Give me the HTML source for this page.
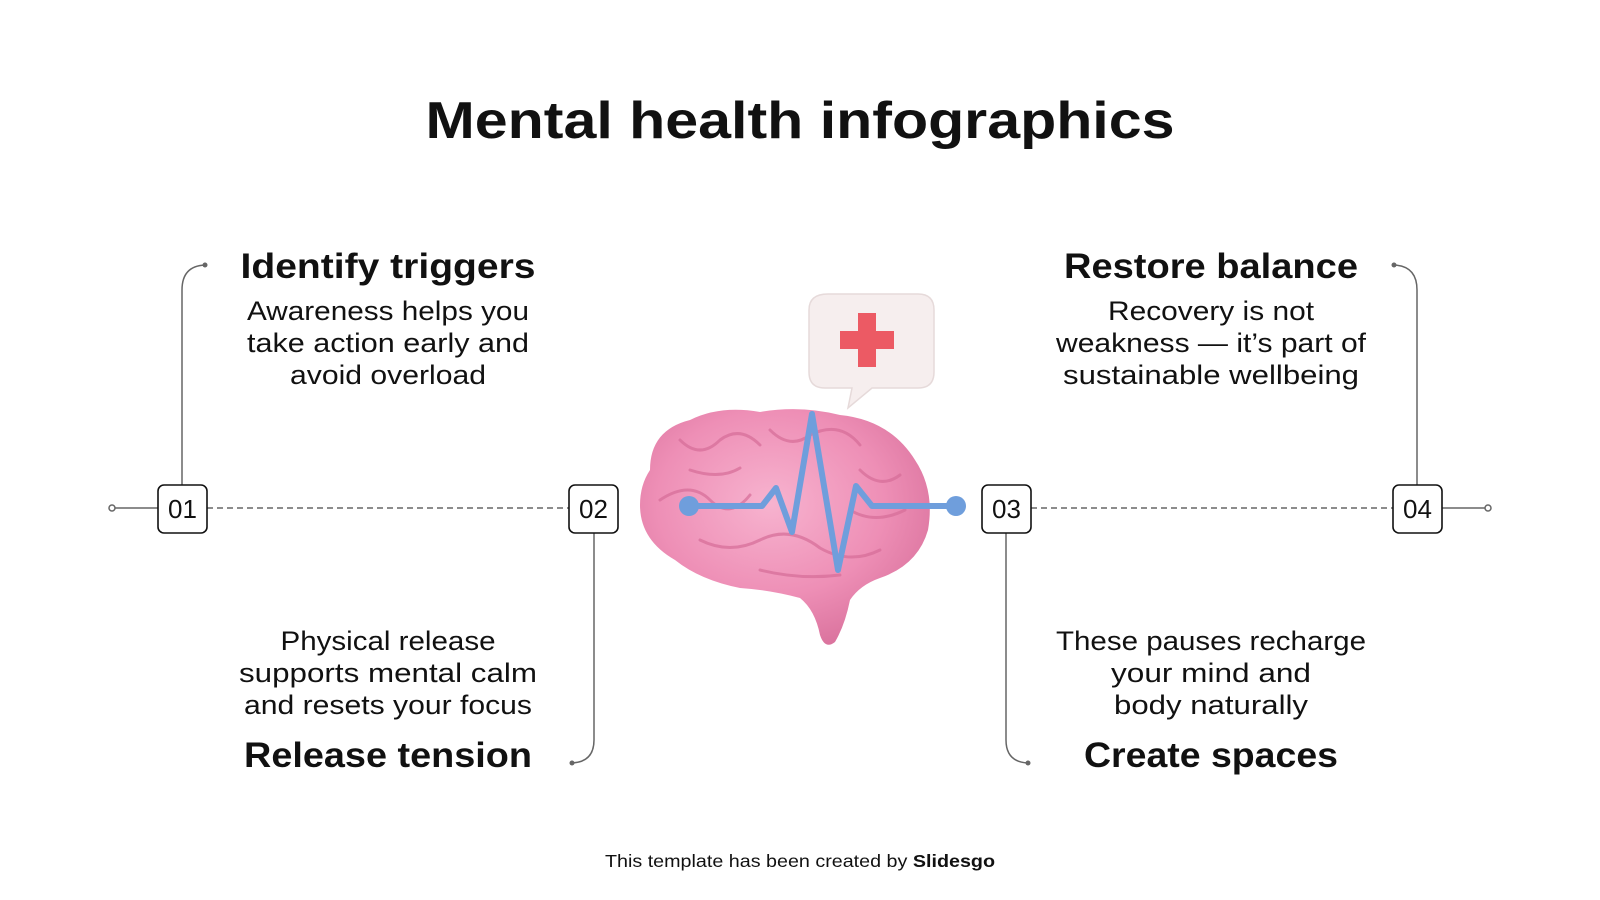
<!DOCTYPE html>
<html><head><meta charset="utf-8"><style>
html,body{margin:0;padding:0;background:#fff}
svg{display:block}
text{font-family:"Liberation Sans",sans-serif;fill:#111}
</style></head><body>
<svg width="1600" height="900" viewBox="0 0 1600 900" xmlns="http://www.w3.org/2000/svg">
<defs>
<radialGradient id="br" cx="45%" cy="40%" r="65%"><stop offset="0" stop-color="#f7b3cf"/><stop offset="0.6" stop-color="#ee8fb6"/><stop offset="1" stop-color="#d9719c"/></radialGradient>
</defs>
<text x="800" y="138" text-anchor="middle" font-size="52" font-weight="bold" textLength="749" lengthAdjust="spacingAndGlyphs">Mental health infographics</text>

<!-- axis -->
<g stroke="#666" stroke-width="1.5" fill="none">
<line x1="115" y1="508" x2="158" y2="508"/>
<line x1="207" y1="508" x2="569" y2="508" stroke-dasharray="6,4"/>
<line x1="1031" y1="508" x2="1393" y2="508" stroke-dasharray="6,4"/>
<line x1="1442" y1="508" x2="1485" y2="508"/>
<circle cx="112" cy="508" r="3" fill="#fff"/>
<circle cx="1488" cy="508" r="3" fill="#fff"/>
<path d="M182 485 V290 Q182 266 205 265"/>
<path d="M594 533 V740 Q594 762 572 763"/>
<path d="M1006 533 V740 Q1006 762 1028 763"/>
<path d="M1417 485 V290 Q1417 266 1394 265"/>
</g>
<g fill="#666"><circle cx="205" cy="265" r="2.5"/><circle cx="572" cy="763" r="2.5"/><circle cx="1028" cy="763" r="2.5"/><circle cx="1394" cy="265" r="2.5"/></g>
<g fill="#fff" stroke="#111" stroke-width="1.6">
<rect x="158" y="485" width="49" height="48" rx="6"/>
<rect x="569" y="485" width="49" height="48" rx="6"/>
<rect x="982" y="485" width="49" height="48" rx="6"/>
<rect x="1393" y="485" width="49" height="48" rx="6"/>
</g>
<g font-size="26" text-anchor="middle">
<text x="182.5" y="518">01</text><text x="593.5" y="518">02</text><text x="1006.5" y="518">03</text><text x="1417.5" y="518">04</text>
</g>

<!-- texts -->
<g text-anchor="middle">
<text x="388" y="278" font-size="35" font-weight="bold" textLength="295" lengthAdjust="spacingAndGlyphs">Identify triggers</text>
<text x="388" y="320" font-size="27" textLength="282" lengthAdjust="spacingAndGlyphs">Awareness helps you</text>
<text x="388" y="352" font-size="27" textLength="282" lengthAdjust="spacingAndGlyphs">take action early and</text>
<text x="388" y="384" font-size="27" textLength="196" lengthAdjust="spacingAndGlyphs">avoid overload</text>

<text x="1211" y="278" font-size="35" font-weight="bold" textLength="294" lengthAdjust="spacingAndGlyphs">Restore balance</text>
<text x="1211" y="320" font-size="27" textLength="206" lengthAdjust="spacingAndGlyphs">Recovery is not</text>
<text x="1211" y="352" font-size="27" textLength="310" lengthAdjust="spacingAndGlyphs">weakness — it’s part of</text>
<text x="1211" y="384" font-size="27" textLength="296" lengthAdjust="spacingAndGlyphs">sustainable wellbeing</text>

<text x="388" y="650" font-size="27" textLength="215" lengthAdjust="spacingAndGlyphs">Physical release</text>
<text x="388" y="682" font-size="27" textLength="298" lengthAdjust="spacingAndGlyphs">supports mental calm</text>
<text x="388" y="714" font-size="27" textLength="288" lengthAdjust="spacingAndGlyphs">and resets your focus</text>
<text x="388" y="767" font-size="35" font-weight="bold" textLength="288" lengthAdjust="spacingAndGlyphs">Release tension</text>

<text x="1211" y="650" font-size="27" textLength="310" lengthAdjust="spacingAndGlyphs">These pauses recharge</text>
<text x="1211" y="682" font-size="27" textLength="200" lengthAdjust="spacingAndGlyphs">your mind and</text>
<text x="1211" y="714" font-size="27" textLength="194" lengthAdjust="spacingAndGlyphs">body naturally</text>
<text x="1211" y="767" font-size="35" font-weight="bold" textLength="254" lengthAdjust="spacingAndGlyphs">Create spaces</text>

<text x="800" y="867" font-size="17.5" textLength="390" lengthAdjust="spacingAndGlyphs">This template has been created by <tspan font-weight="bold">Slidesgo</tspan></text>
</g>

<!-- bubble -->
<path d="M828 294 H918 Q934 294 934 310 V372 Q934 388 918 388 H872 L848 408 L852 388 H825 Q809 388 809 372 V310 Q809 294 828 294 Z" fill="#f6eeee" stroke="#e6dada" stroke-width="1.5"/>
<path d="M858 313 H876 V331 H894 V349 H876 V367 H858 V349 H840 V331 H858 Z" fill="#ec5a64"/>

<!-- brain -->
<path d="M650 470 Q650 430 690 420 Q720 405 760 412 Q800 405 840 415 Q890 420 915 460 Q935 490 928 530 Q918 565 880 578 Q860 585 850 600 Q845 625 835 642 Q825 650 820 635 Q815 610 800 598 Q770 590 740 588 Q700 580 675 560 Q640 540 640 505 Q640 485 650 470 Z" fill="url(#br)"/>
<g fill="none" stroke="#d66d98" stroke-width="3" stroke-linecap="round" opacity="0.7">
<path d="M680 440 Q700 460 720 440 Q740 425 760 445"/>
<path d="M660 500 Q690 480 710 500 Q730 520 750 495"/>
<path d="M770 430 Q790 450 810 435 Q840 420 860 445"/>
<path d="M860 470 Q880 490 900 475"/>
<path d="M700 540 Q730 555 760 540 Q790 525 820 548 Q850 565 880 550"/>
<path d="M690 470 Q720 480 740 468"/>
<path d="M850 510 Q875 525 905 510"/>
<path d="M760 570 Q800 580 840 575"/>
</g>
<!-- ECG -->
<g fill="none" stroke="#6f9edc" stroke-width="6" stroke-linejoin="round" stroke-linecap="round">
<path d="M689 506 H762 L776 488 L792 532 L812 414 L838 570 L856 486 L872 506 H956"/>
</g>
<circle cx="689" cy="506" r="10" fill="#6f9edc"/>
<circle cx="956" cy="506" r="10" fill="#6f9edc"/>
</svg>
</body></html>
